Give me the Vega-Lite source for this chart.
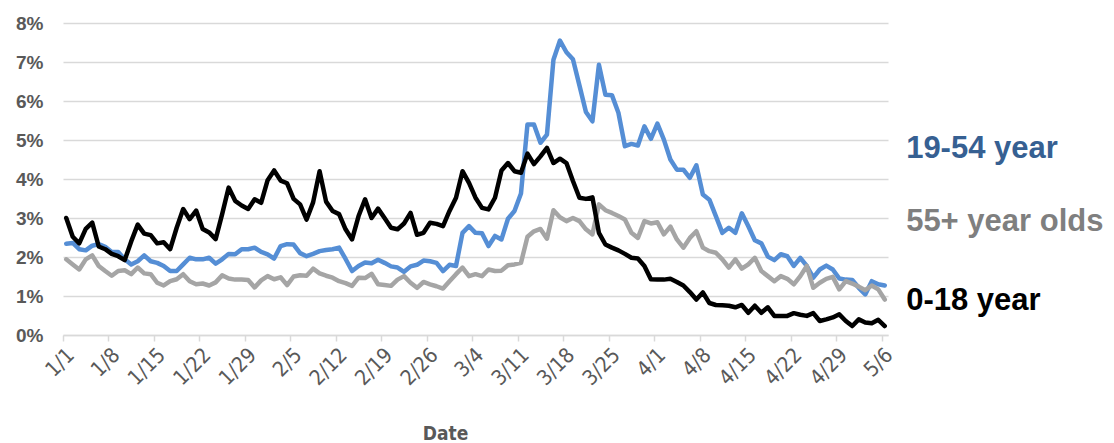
{
  "$schema": "https://vega.github.io/schema/vega-lite/v6.json",
  "width": 825,
  "height": 312,
  "autosize": {"type": "none"},
  "padding": {"left": 63, "top": 23, "right": 226, "bottom": 108},
  "background": "white",
  "config": {
    "view": {"stroke": null},
    "font": "Liberation Sans",
    "axisX": {
      "labelAngle": -45,
      "labelFontSize": 21,
      "labelFontWeight": "normal",
      "labelColor": "#595959",
      "labelFont": "DejaVu Sans Condensed, Liberation Sans",
      "labelPadding": 3,
      "domainColor": "#D9D9D9",
      "domainWidth": 1.5,
      "tickColor": "#D9D9D9",
      "tickWidth": 1.5,
      "tickSize": 6,
      "grid": false,
      "titleFont": "DejaVu Sans Condensed, Liberation Sans",
      "titleFontSize": 19,
      "titleFontWeight": "bold",
      "titleColor": "#595959",
      "titleBaseline": "middle",
      "titleX": 382,
      "titleY": 98
    },
    "axisY": {
      "domain": false,
      "ticks": false,
      "gridColor": "#D9D9D9",
      "gridWidth": 1.5,
      "labelFontSize": 19,
      "labelFontWeight": "bold",
      "labelColor": "#595959",
      "labelPadding": 20
    }
  },
  "datasets": {
    "daily": [
      {"date":"2020-01-01T12:00:00","k":3.00,"b":2.34,"g":1.94},
      {"date":"2020-01-02T12:00:00","k":2.52,"b":2.36,"g":1.81},
      {"date":"2020-01-03T12:00:00","k":2.35,"b":2.20,"g":1.68},
      {"date":"2020-01-04T12:00:00","k":2.72,"b":2.17,"g":1.94},
      {"date":"2020-01-05T12:00:00","k":2.88,"b":2.29,"g":2.04},
      {"date":"2020-01-06T12:00:00","k":2.27,"b":2.33,"g":1.77},
      {"date":"2020-01-07T12:00:00","k":2.20,"b":2.26,"g":1.64},
      {"date":"2020-01-08T12:00:00","k":2.08,"b":2.13,"g":1.52},
      {"date":"2020-01-09T12:00:00","k":2.02,"b":2.13,"g":1.64},
      {"date":"2020-01-10T12:00:00","k":1.92,"b":1.94,"g":1.66},
      {"date":"2020-01-11T12:00:00","k":2.40,"b":1.81,"g":1.56},
      {"date":"2020-01-12T12:00:00","k":2.83,"b":1.89,"g":1.73},
      {"date":"2020-01-13T12:00:00","k":2.60,"b":2.04,"g":1.58},
      {"date":"2020-01-14T12:00:00","k":2.56,"b":1.89,"g":1.56},
      {"date":"2020-01-15T12:00:00","k":2.35,"b":1.85,"g":1.34},
      {"date":"2020-01-16T12:00:00","k":2.38,"b":1.77,"g":1.27},
      {"date":"2020-01-17T12:00:00","k":2.20,"b":1.64,"g":1.38},
      {"date":"2020-01-18T12:00:00","k":2.75,"b":1.64,"g":1.43},
      {"date":"2020-01-19T12:00:00","k":3.23,"b":1.81,"g":1.56},
      {"date":"2020-01-20T12:00:00","k":2.97,"b":1.98,"g":1.38},
      {"date":"2020-01-21T12:00:00","k":3.19,"b":1.94,"g":1.30},
      {"date":"2020-01-22T12:00:00","k":2.72,"b":1.94,"g":1.32},
      {"date":"2020-01-23T12:00:00","k":2.63,"b":1.98,"g":1.27},
      {"date":"2020-01-24T12:00:00","k":2.46,"b":1.83,"g":1.35},
      {"date":"2020-01-25T12:00:00","k":3.10,"b":1.94,"g":1.53},
      {"date":"2020-01-26T12:00:00","k":3.78,"b":2.08,"g":1.45},
      {"date":"2020-01-27T12:00:00","k":3.44,"b":2.07,"g":1.42},
      {"date":"2020-01-28T12:00:00","k":3.32,"b":2.20,"g":1.42},
      {"date":"2020-01-29T12:00:00","k":3.23,"b":2.20,"g":1.41},
      {"date":"2020-01-30T12:00:00","k":3.48,"b":2.24,"g":1.22},
      {"date":"2020-01-31T12:00:00","k":3.39,"b":2.13,"g":1.40},
      {"date":"2020-02-01T12:00:00","k":3.97,"b":2.07,"g":1.51},
      {"date":"2020-02-02T12:00:00","k":4.22,"b":1.96,"g":1.43},
      {"date":"2020-02-03T12:00:00","k":3.96,"b":2.28,"g":1.48},
      {"date":"2020-02-04T12:00:00","k":3.89,"b":2.33,"g":1.28},
      {"date":"2020-02-05T12:00:00","k":3.49,"b":2.32,"g":1.50},
      {"date":"2020-02-06T12:00:00","k":3.35,"b":2.10,"g":1.53},
      {"date":"2020-02-07T12:00:00","k":2.96,"b":2.02,"g":1.52},
      {"date":"2020-02-08T12:00:00","k":3.40,"b":2.08,"g":1.70},
      {"date":"2020-02-09T12:00:00","k":4.20,"b":2.15,"g":1.58},
      {"date":"2020-02-10T12:00:00","k":3.42,"b":2.18,"g":1.52},
      {"date":"2020-02-11T12:00:00","k":3.18,"b":2.20,"g":1.47},
      {"date":"2020-02-12T12:00:00","k":3.10,"b":2.24,"g":1.38},
      {"date":"2020-02-13T12:00:00","k":2.71,"b":1.95,"g":1.33},
      {"date":"2020-02-14T12:00:00","k":2.45,"b":1.64,"g":1.26},
      {"date":"2020-02-15T12:00:00","k":3.05,"b":1.77,"g":1.47},
      {"date":"2020-02-16T12:00:00","k":3.48,"b":1.86,"g":1.46},
      {"date":"2020-02-17T12:00:00","k":3.00,"b":1.84,"g":1.57},
      {"date":"2020-02-18T12:00:00","k":3.24,"b":1.93,"g":1.30},
      {"date":"2020-02-19T12:00:00","k":3.00,"b":1.85,"g":1.28},
      {"date":"2020-02-20T12:00:00","k":2.75,"b":1.76,"g":1.26},
      {"date":"2020-02-21T12:00:00","k":2.71,"b":1.73,"g":1.42},
      {"date":"2020-02-22T12:00:00","k":2.86,"b":1.62,"g":1.51},
      {"date":"2020-02-23T12:00:00","k":3.13,"b":1.76,"g":1.34},
      {"date":"2020-02-24T12:00:00","k":2.57,"b":1.80,"g":1.21},
      {"date":"2020-02-25T12:00:00","k":2.62,"b":1.91,"g":1.36},
      {"date":"2020-02-26T12:00:00","k":2.88,"b":1.89,"g":1.30},
      {"date":"2020-02-27T12:00:00","k":2.85,"b":1.85,"g":1.25},
      {"date":"2020-02-28T12:00:00","k":2.79,"b":1.64,"g":1.19},
      {"date":"2020-02-29T12:00:00","k":3.18,"b":1.80,"g":1.38},
      {"date":"2020-03-01T12:00:00","k":3.52,"b":1.77,"g":1.56},
      {"date":"2020-03-02T12:00:00","k":4.20,"b":2.62,"g":1.73},
      {"date":"2020-03-03T12:00:00","k":3.90,"b":2.79,"g":1.51},
      {"date":"2020-03-04T12:00:00","k":3.52,"b":2.62,"g":1.56},
      {"date":"2020-03-05T12:00:00","k":3.26,"b":2.61,"g":1.51},
      {"date":"2020-03-06T12:00:00","k":3.22,"b":2.28,"g":1.68},
      {"date":"2020-03-07T12:00:00","k":3.52,"b":2.54,"g":1.64},
      {"date":"2020-03-08T12:00:00","k":4.22,"b":2.45,"g":1.65},
      {"date":"2020-03-09T12:00:00","k":4.41,"b":2.98,"g":1.79},
      {"date":"2020-03-10T12:00:00","k":4.20,"b":3.18,"g":1.81},
      {"date":"2020-03-11T12:00:00","k":4.16,"b":3.63,"g":1.85},
      {"date":"2020-03-12T12:00:00","k":4.65,"b":5.40,"g":2.52},
      {"date":"2020-03-13T12:00:00","k":4.38,"b":5.40,"g":2.66},
      {"date":"2020-03-14T12:00:00","k":4.58,"b":4.93,"g":2.72},
      {"date":"2020-03-15T12:00:00","k":4.80,"b":5.14,"g":2.47},
      {"date":"2020-03-16T12:00:00","k":4.41,"b":7.06,"g":3.20},
      {"date":"2020-03-17T12:00:00","k":4.52,"b":7.55,"g":3.02},
      {"date":"2020-03-18T12:00:00","k":4.41,"b":7.25,"g":2.92},
      {"date":"2020-03-19T12:00:00","k":3.95,"b":7.07,"g":3.00},
      {"date":"2020-03-20T12:00:00","k":3.52,"b":6.40,"g":2.92},
      {"date":"2020-03-21T12:00:00","k":3.49,"b":5.72,"g":2.71},
      {"date":"2020-03-22T12:00:00","k":3.53,"b":5.48,"g":2.58},
      {"date":"2020-03-23T12:00:00","k":2.62,"b":6.93,"g":3.35},
      {"date":"2020-03-24T12:00:00","k":2.32,"b":6.16,"g":3.20},
      {"date":"2020-03-25T12:00:00","k":2.24,"b":6.15,"g":3.13},
      {"date":"2020-03-26T12:00:00","k":2.17,"b":5.70,"g":3.05},
      {"date":"2020-03-27T12:00:00","k":2.08,"b":4.84,"g":2.96},
      {"date":"2020-03-28T12:00:00","k":1.98,"b":4.90,"g":2.62},
      {"date":"2020-03-29T12:00:00","k":1.96,"b":4.86,"g":2.49},
      {"date":"2020-03-30T12:00:00","k":1.77,"b":5.35,"g":2.92},
      {"date":"2020-03-31T12:00:00","k":1.43,"b":5.03,"g":2.86},
      {"date":"2020-04-01T12:00:00","k":1.42,"b":5.42,"g":2.89},
      {"date":"2020-04-02T12:00:00","k":1.42,"b":5.01,"g":2.58},
      {"date":"2020-04-03T12:00:00","k":1.44,"b":4.50,"g":2.78},
      {"date":"2020-04-04T12:00:00","k":1.36,"b":4.24,"g":2.45},
      {"date":"2020-04-05T12:00:00","k":1.27,"b":4.24,"g":2.24},
      {"date":"2020-04-06T12:00:00","k":1.10,"b":4.03,"g":2.49},
      {"date":"2020-04-07T12:00:00","k":0.91,"b":4.35,"g":2.66},
      {"date":"2020-04-08T12:00:00","k":1.09,"b":3.60,"g":2.24},
      {"date":"2020-04-09T12:00:00","k":0.82,"b":3.47,"g":2.15},
      {"date":"2020-04-10T12:00:00","k":0.77,"b":3.05,"g":2.11},
      {"date":"2020-04-11T12:00:00","k":0.76,"b":2.62,"g":1.94},
      {"date":"2020-04-12T12:00:00","k":0.75,"b":2.75,"g":1.73},
      {"date":"2020-04-13T12:00:00","k":0.71,"b":2.62,"g":1.94},
      {"date":"2020-04-14T12:00:00","k":0.77,"b":3.12,"g":1.70},
      {"date":"2020-04-15T12:00:00","k":0.57,"b":2.79,"g":1.81},
      {"date":"2020-04-16T12:00:00","k":0.75,"b":2.43,"g":1.98},
      {"date":"2020-04-17T12:00:00","k":0.57,"b":2.35,"g":1.64},
      {"date":"2020-04-18T12:00:00","k":0.71,"b":2.01,"g":1.51},
      {"date":"2020-04-19T12:00:00","k":0.49,"b":1.92,"g":1.38},
      {"date":"2020-04-20T12:00:00","k":0.49,"b":2.07,"g":1.51},
      {"date":"2020-04-21T12:00:00","k":0.49,"b":2.02,"g":1.44},
      {"date":"2020-04-22T12:00:00","k":0.56,"b":1.77,"g":1.30},
      {"date":"2020-04-23T12:00:00","k":0.52,"b":1.98,"g":1.51},
      {"date":"2020-04-24T12:00:00","k":0.49,"b":1.77,"g":1.77},
      {"date":"2020-04-25T12:00:00","k":0.56,"b":1.47,"g":1.21},
      {"date":"2020-04-26T12:00:00","k":0.36,"b":1.68,"g":1.34},
      {"date":"2020-04-27T12:00:00","k":0.40,"b":1.78,"g":1.44},
      {"date":"2020-04-28T12:00:00","k":0.45,"b":1.68,"g":1.49},
      {"date":"2020-04-29T12:00:00","k":0.53,"b":1.45,"g":1.17},
      {"date":"2020-04-30T12:00:00","k":0.36,"b":1.42,"g":1.38},
      {"date":"2020-05-01T12:00:00","k":0.23,"b":1.41,"g":1.32},
      {"date":"2020-05-02T12:00:00","k":0.40,"b":1.21,"g":1.24},
      {"date":"2020-05-03T12:00:00","k":0.32,"b":1.04,"g":1.15},
      {"date":"2020-05-04T12:00:00","k":0.30,"b":1.38,"g":1.27},
      {"date":"2020-05-05T12:00:00","k":0.39,"b":1.30,"g":1.17},
      {"date":"2020-05-06T12:00:00","k":0.23,"b":1.27,"g":0.91}
    ],
    "labels": [
      {"date":"2020-05-09T19:00:00","value":4.76,"label":"19-54 year"},
      {"date":"2020-05-09T19:00:00","value":2.91,"label":"55+ year olds"},
      {"date":"2020-05-09T19:00:00","value":0.87,"label":"0-18 year"}
    ]
  },
  "encoding": {
    "x": {
      "field": "date",
      "type": "temporal",
      "scale": {"domain": [{"year":2020,"month":1,"date":1},{"year":2020,"month":5,"date":7}]},
      "axis": {
        "title": "Date",
        "format": "%-m/%-d",
        "values": [
          {"year":2020,"month":1,"date":1},{"year":2020,"month":1,"date":8},{"year":2020,"month":1,"date":15},
          {"year":2020,"month":1,"date":22},{"year":2020,"month":1,"date":29},{"year":2020,"month":2,"date":5},
          {"year":2020,"month":2,"date":12},{"year":2020,"month":2,"date":19},{"year":2020,"month":2,"date":26},
          {"year":2020,"month":3,"date":4},{"year":2020,"month":3,"date":11},{"year":2020,"month":3,"date":18},
          {"year":2020,"month":3,"date":25},{"year":2020,"month":4,"date":1},{"year":2020,"month":4,"date":8},
          {"year":2020,"month":4,"date":15},{"year":2020,"month":4,"date":22},{"year":2020,"month":4,"date":29},
          {"year":2020,"month":5,"date":6}
        ]
      }
    }
  },
  "layer": [
    {
      "data": {"name": "daily"},
      "mark": {"type": "line", "color": "#558ED5", "strokeWidth": 4.5, "strokeJoin": "round", "strokeCap": "round"},
      "encoding": {
        "y": {
          "field": "b", "type": "quantitative", "title": null,
          "scale": {"domain": [0, 8]},
          "axis": {"values": [0,1,2,3,4,5,6,7,8], "labelExpr": "datum.value + '%'", "labelOverlap": false}
        }
      }
    },
    {
      "data": {"name": "daily"},
      "mark": {"type": "line", "color": "#A5A5A5", "strokeWidth": 4.5, "strokeJoin": "round", "strokeCap": "round"},
      "encoding": {
        "y": {
          "field": "g", "type": "quantitative", "title": null,
          "axis": {"values": [0,1,2,3,4,5,6,7,8], "labelExpr": "datum.value + '%'", "labelOverlap": false}
        }
      }
    },
    {
      "data": {"name": "daily"},
      "mark": {"type": "line", "color": "#000000", "strokeWidth": 4.5, "strokeJoin": "round", "strokeCap": "round"},
      "encoding": {
        "y": {
          "field": "k", "type": "quantitative", "title": null,
          "axis": {"values": [0,1,2,3,4,5,6,7,8], "labelExpr": "datum.value + '%'", "labelOverlap": false}
        }
      }
    },
    {
      "data": {"name": "labels"},
      "mark": {"type": "text", "align": "left", "baseline": "middle", "fontSize": 31, "fontWeight": "bold", "font": "Liberation Sans"},
      "encoding": {
        "y": {
          "field": "value", "type": "quantitative", "title": null,
          "axis": {"values": [0,1,2,3,4,5,6,7,8], "labelExpr": "datum.value + '%'", "labelOverlap": false}
        },
        "text": {"field": "label"},
        "color": {
          "field": "label", "type": "nominal", "legend": null,
          "scale": {"domain": ["19-54 year", "55+ year olds", "0-18 year"], "range": ["#366092", "#7F7F7F", "#000000"]}
        }
      }
    }
  ]
}
